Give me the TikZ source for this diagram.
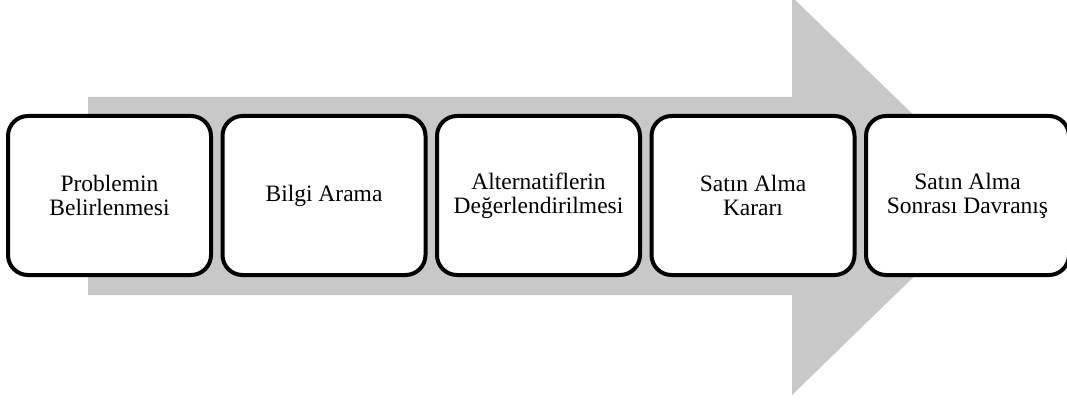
\documentclass[tikz,border=0pt]{standalone}
\usepackage{fontspec}
\setmainfont{Liberation Serif}
\begin{document}
\begin{tikzpicture}[x=1pt,y=-1pt,
  stage/.style={draw=black, line width=4pt, rounded corners=20pt, fill=white,
    minimum width=203pt, minimum height=159pt, align=center, inner sep=0pt,
    font=\fontsize{23.5}{24}\selectfont}]
\useasboundingbox (0,0) rectangle (1067,401);
\clip (0,0) rectangle (1067,401);
% wide background arrow
\fill[fill={rgb,255:red,200;green,200;blue,200}]
  (88,97) -- (792,97) -- (792,-3) -- (997,196) -- (792,395) -- (792,295) -- (88,295) -- cycle;
% process stages
\node[stage] (s1) at (109.5,195.5) {Problemin\\Belirlenmesi};
\node[stage] (s2) at (324,195.5) {Bilgi Arama};
\node[stage] (s3) at (538.5,195.5) {Alternatiflerin\\Değerlendirilmesi};
\node[stage] (s4) at (753,195.5) {Satın Alma\\Kararı};
\node[stage] (s5) at (967.5,195.5) {Satın Alma\\Sonrası Davranış};
\end{tikzpicture}
\end{document}
